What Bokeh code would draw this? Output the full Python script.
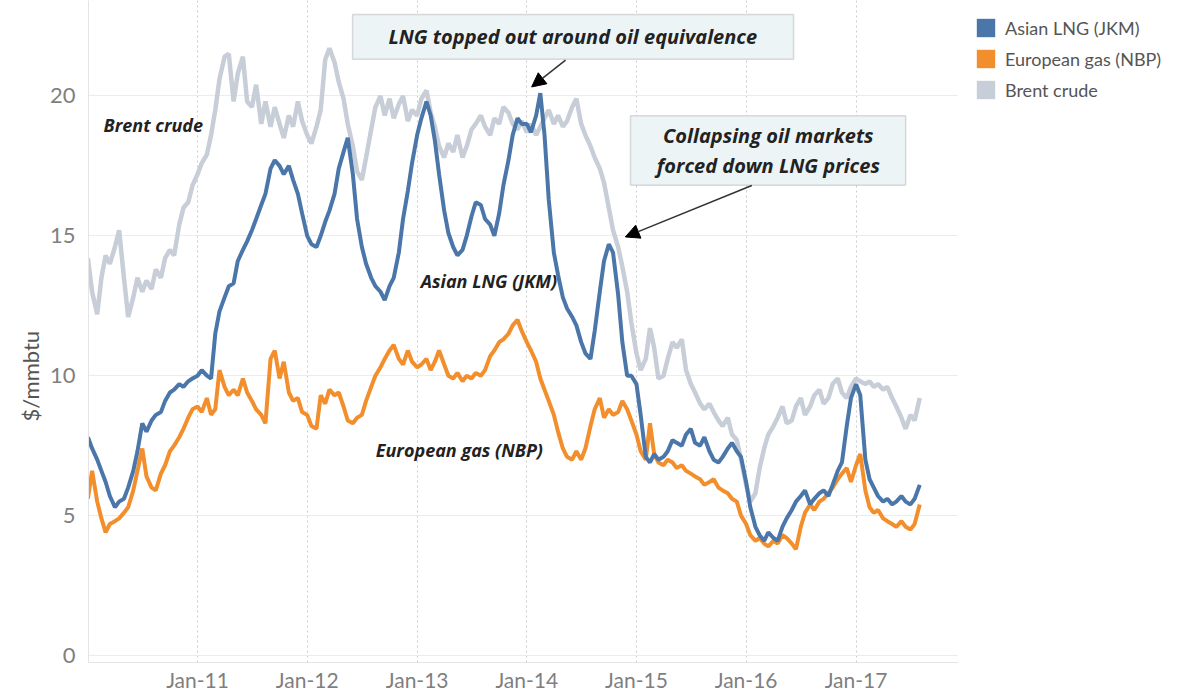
import math
import pandas as pd
from bokeh.plotting import figure
from bokeh.layouts import row
from bokeh.models import (Range1d, FixedTicker, DatetimeTickFormatter, Legend, LegendItem,
                          Label, Arrow, NormalHead, BoxAnnotation, Title)
from bokeh.embed import file_html
from bokeh.resources import INLINE

# ---------------- data (semi-monthly readings, $/mmbtu) ----------------
start_date = "2010-01-01"
end_date = "2017-08-01"
dates = pd.date_range(start_date, end_date, freq="SMS")

brent = [
    14.2, 13.0, 12.2, 13.5, 14.3, 14.0, 14.6, 15.2, 13.5, 12.1, 12.8, 13.5,
    13.0, 13.4, 13.1, 13.8, 13.5, 14.2, 14.5, 14.3, 15.4, 16.0, 16.2, 16.8,
    17.2, 17.6, 17.9, 18.6, 19.5, 20.6, 21.4, 21.5, 19.8, 20.8, 21.4, 19.8,
    19.6, 20.4, 19.0, 19.8, 18.9, 19.6, 19.0, 18.5, 19.3, 18.9, 19.8, 19.1,
    18.6, 18.3, 18.9, 19.5, 21.3, 21.7, 21.2, 20.5, 19.9, 19.0, 18.2, 17.3,
    17.0, 17.8, 18.8, 19.6, 20.0, 19.3, 19.9, 19.2, 19.7, 20.0, 19.1, 19.5,
    19.3, 19.9, 20.2, 19.4, 18.9, 18.2, 17.8, 18.3, 18.0, 18.6, 17.8, 18.2,
    18.8, 19.0, 19.3, 18.9, 18.6, 19.2, 19.0, 19.6, 19.4, 19.0, 18.8, 19.1,
    18.7, 19.0, 18.6, 18.9, 19.2, 19.5, 19.0, 19.3, 18.9, 19.1, 19.6, 19.9,
    19.0, 18.6, 18.2, 17.8, 17.4, 16.9, 16.0, 15.2, 14.6, 13.9, 13.0, 11.9,
    10.8, 10.2, 10.6, 11.7, 11.0, 9.9, 10.0, 10.6, 11.2, 11.0, 11.3, 10.2,
    9.7, 9.4, 9.0, 8.8, 9.0, 8.7, 8.4, 8.2, 8.5, 7.9, 7.7, 7.0,
    6.1, 5.5, 5.8, 6.7, 7.4, 7.9, 8.2, 8.5, 8.9, 8.3, 8.4, 8.9,
    9.2, 8.6, 8.9, 9.3, 9.5, 9.0, 9.2, 9.7, 9.9, 9.4, 9.2, 9.6,
    9.9, 9.8, 9.7, 9.8, 9.6, 9.7, 9.5, 9.6, 9.2, 8.9, 8.5, 8.1,
    8.6, 8.4, 9.2,
]

jkm = [
    7.8, 7.4, 7.0, 6.6, 6.2, 5.7, 5.3, 5.5, 5.6, 6.0, 6.6, 7.3,
    8.3, 8.0, 8.4, 8.6, 8.7, 9.1, 9.4, 9.5, 9.7, 9.6, 9.8, 9.9,
    10.0, 10.2, 10.0, 9.9, 11.5, 12.3, 12.8, 13.2, 13.3, 14.1, 14.5, 14.8,
    15.2, 15.6, 16.1, 16.5, 17.4, 17.7, 17.5, 17.2, 17.5, 17.0, 16.5, 15.8,
    15.0, 14.7, 14.6, 15.0, 15.5, 15.9, 16.5, 17.4, 18.0, 18.5, 17.2, 15.6,
    14.6, 14.0, 13.5, 13.2, 13.0, 12.7, 13.2, 13.5, 14.4, 15.6, 16.6, 17.6,
    18.6, 19.2, 19.8, 19.3, 18.4, 17.2, 15.9, 15.1, 14.6, 14.3, 14.5, 15.0,
    15.7, 16.2, 16.1, 15.6, 15.4, 15.0, 15.8, 16.8, 17.7, 18.6, 19.2, 19.0,
    19.0, 18.7, 19.3, 20.1, 18.6, 16.3, 14.4, 13.6, 12.8, 12.4, 12.1, 11.8,
    11.2, 10.8, 10.6, 11.6, 13.0, 14.1, 14.7, 14.4, 12.9, 11.2, 10.0, 10.0,
    9.7, 8.6, 7.1, 6.9, 7.2, 7.0, 7.1, 7.3, 7.7, 7.6, 7.5, 7.9,
    8.1, 7.6, 7.5, 7.8, 7.3, 7.0, 6.9, 7.1, 7.4, 7.6, 7.3, 7.1,
    6.2, 5.3, 4.6, 4.3, 4.1, 4.4, 4.2, 4.1, 4.6, 4.9, 5.2, 5.5,
    5.7, 5.9, 5.4, 5.6, 5.8, 5.9, 5.7, 6.1, 6.6, 6.9, 8.2, 9.2,
    9.7, 9.3, 7.0, 6.3, 6.0, 5.7, 5.5, 5.6, 5.4, 5.5, 5.7, 5.5,
    5.4, 5.6, 6.1,
]

nbp = [
    5.6, 6.6, 5.5, 4.9, 4.4, 4.7, 4.8, 4.9, 5.1, 5.3, 5.9, 6.6,
    7.4, 6.4, 6.0, 5.9, 6.5, 6.8, 7.3, 7.5, 7.8, 8.1, 8.5, 8.8,
    8.9, 8.7, 9.2, 8.6, 8.8, 10.2, 9.6, 9.3, 9.5, 9.3, 9.9, 9.4,
    9.1, 8.8, 8.6, 8.3, 10.6, 10.9, 9.9, 10.5, 9.4, 9.1, 9.2, 8.7,
    8.6, 8.2, 8.1, 9.3, 9.0, 9.5, 9.3, 9.4, 8.9, 8.4, 8.3, 8.5,
    8.6, 9.1, 9.6, 10.0, 10.3, 10.6, 10.9, 11.1, 10.6, 10.4, 10.9, 10.5,
    10.3, 10.4, 10.6, 10.2, 10.5, 10.9, 10.4, 10.0, 9.9, 10.1, 9.8, 10.0,
    9.9, 10.1, 10.0, 10.2, 10.7, 10.9, 11.2, 11.3, 11.5, 11.8, 12.0, 11.6,
    11.2, 10.9, 10.5, 9.9, 9.5, 9.1, 8.6, 8.0, 7.4, 7.1, 7.0, 7.3,
    7.0, 7.4, 8.2, 8.8, 9.2, 8.5, 8.8, 8.6, 8.7, 9.1, 8.8, 8.4,
    7.9, 7.3, 7.0, 8.3, 7.2, 6.9, 6.8, 7.0, 6.9, 6.7, 6.8, 6.6,
    6.5, 6.4, 6.3, 6.1, 6.2, 6.3, 6.0, 5.9, 5.8, 5.6, 5.5, 5.0,
    4.7, 4.3, 4.1, 4.2, 4.0, 3.9, 4.1, 4.0, 4.3, 4.2, 4.0, 3.8,
    4.6, 5.1, 5.4, 5.2, 5.5, 5.6, 5.8, 6.0, 6.3, 6.5, 6.7, 6.2,
    6.8, 7.2, 5.9, 5.3, 5.1, 5.2, 4.9, 4.8, 4.7, 4.6, 4.8, 4.6,
    4.5, 4.7, 5.4,
]

series_names = ["Asian LNG (JKM)", "European gas (NBP)", "Brent crude"]
series_colors = ["#4a76a9", "#f28e2b", "#c7ced8"]

tick_dates = ["2011-01-01", "2012-01-01", "2013-01-01", "2014-01-01",
              "2015-01-01", "2016-01-01", "2017-01-01"]
y_ticks = [0, 5, 10, 15, 20]
y_title = "$/mmbtu"

assert len(dates) == len(brent) == len(jkm) == len(nbp)


def ms(d):
    return pd.Timestamp(d).timestamp() * 1000.0


FONT = "Lato"
NOTE_FONT = "Open Sans"
H = 694

# ---------------- main figure ----------------
p = figure(width=958, height=H, x_axis_type="datetime",
           x_range=Range1d(ms("2010-01-03"), ms("2017-12-08")),
           y_range=Range1d(-0.25, 23.41),
           output_backend="svg", toolbar_location=None,
           min_border_left=88, min_border_right=0,
           min_border_top=0, min_border_bottom=28)
p.outline_line_color = None

p.xgrid.grid_line_color = "#cccccc"
p.xgrid.grid_line_dash = "2 3"
p.ygrid.grid_line_color = "#ececec"

p.xaxis.ticker = FixedTicker(ticks=[ms(d) for d in tick_dates])
p.xaxis.formatter = DatetimeTickFormatter(years="%b-%y", months="%b-%y", days="%b-%y")
p.yaxis.ticker = FixedTicker(ticks=y_ticks)

for ax in (p.xaxis[0], p.yaxis[0]):
    ax.axis_line_color = "#e4e4e4"
    ax.major_tick_line_color = None
    ax.minor_tick_line_color = None
    ax.major_tick_out = 0
    ax.major_tick_in = 0
    ax.minor_tick_out = 0
    ax.minor_tick_in = 0
    ax.major_label_text_font = FONT
    ax.major_label_text_color = "#7f7f7f"

p.xaxis.major_label_text_font_size = "21px"
p.xaxis.major_label_standoff = 4
p.yaxis.major_label_text_font_size = "22px"
p.yaxis.major_label_standoff = 13

# y-axis title, placed beside the 10 gridline as in the original
p.add_layout(Title(text=y_title, align="left", offset=241, standoff=6,
                   text_font=FONT, text_font_size="22px", text_font_style="normal",
                   text_color="#555555"), "left")

# lines
p.line(dates, brent, line_color=series_colors[2], line_width=4.5)
p.line(dates, nbp, line_color=series_colors[1], line_width=4)
p.line(dates, jkm, line_color=series_colors[0], line_width=4)

# inline series labels
inline = [("Brent crude", "2010-02-22", 18.97),
          ("Asian LNG (JKM)", "2013-01-13", 13.37),
          ("European gas (NBP)", "2012-08-16", 7.34)]
for txt, d, v in inline:
    p.add_layout(Label(x=ms(d), y=v, text=txt, text_font=NOTE_FONT,
                       text_font_style="bold italic", text_font_size="18px",
                       text_color="#222222", text_baseline="middle", text_align="left"))

# annotation boxes
box_fill = "#edf4f6"
box_line = "#8c8c8c"
p.add_layout(BoxAnnotation(left=ms("2012-05-31"), right=ms("2016-06-07"), top=22.91, bottom=21.31,
                           fill_color=box_fill, fill_alpha=1, line_color=box_line, line_width=1.5))
p.add_layout(Label(x=ms("2014-06-03"), y=22.11, text="LNG topped out around oil equivalence",
                   text_font=NOTE_FONT, text_font_style="bold italic", text_font_size="20px",
                   text_color="#222222", text_align="center", text_baseline="middle"))
p.add_layout(BoxAnnotation(left=ms("2014-12-12"), right=ms("2017-06-15"), top=19.29, bottom=16.81,
                           fill_color=box_fill, fill_alpha=1, line_color=box_line, line_width=1.5))
p.add_layout(Label(x=ms("2016-03-15"), y=18.05, text="Collapsing oil markets\nforced down LNG prices",
                   text_font=NOTE_FONT, text_font_style="bold italic", text_font_size="20px",
                   text_color="#222222", text_align="center", text_baseline="middle",
                   text_line_height=1.1))

# arrows
p.add_layout(Arrow(end=NormalHead(size=14, fill_color="black", line_color="black"),
                   x_start=ms("2014-05-10"), y_start=21.28, x_end=ms("2014-01-17"), y_end=20.32,
                   line_color="#333333", line_width=1.5))
p.add_layout(Arrow(end=NormalHead(size=14, fill_color="black", line_color="black"),
                   x_start=ms("2016-01-20"), y_start=16.8, x_end=ms("2014-11-25"), y_end=14.96,
                   line_color="#333333", line_width=1.5))

# ---------------- legend panel ----------------
lg = figure(width=216, height=H, x_range=Range1d(0, 1), y_range=Range1d(0, 1),
            output_backend="svg", toolbar_location=None,
            min_border_left=0, min_border_right=0, min_border_top=0, min_border_bottom=0)
lg.axis.visible = False
lg.grid.visible = False
lg.outline_line_color = None
swatches = [lg.quad(left=[math.nan], right=[math.nan], top=[math.nan], bottom=[math.nan],
                    fill_color=c, line_color=None) for c in series_colors]
legend = Legend(items=[LegendItem(label=n, renderers=[r]) for n, r in zip(series_names, swatches)],
                location="top_left", margin=16, padding=0,
                glyph_width=23, glyph_height=23, label_standoff=8, spacing=8,
                label_text_font=FONT, label_text_font_size="18px",
                label_text_color="#555555", border_line_color=None,
                background_fill_alpha=0)
lg.add_layout(legend)

open("out.html", "w").write(file_html(row(p, lg), INLINE))
